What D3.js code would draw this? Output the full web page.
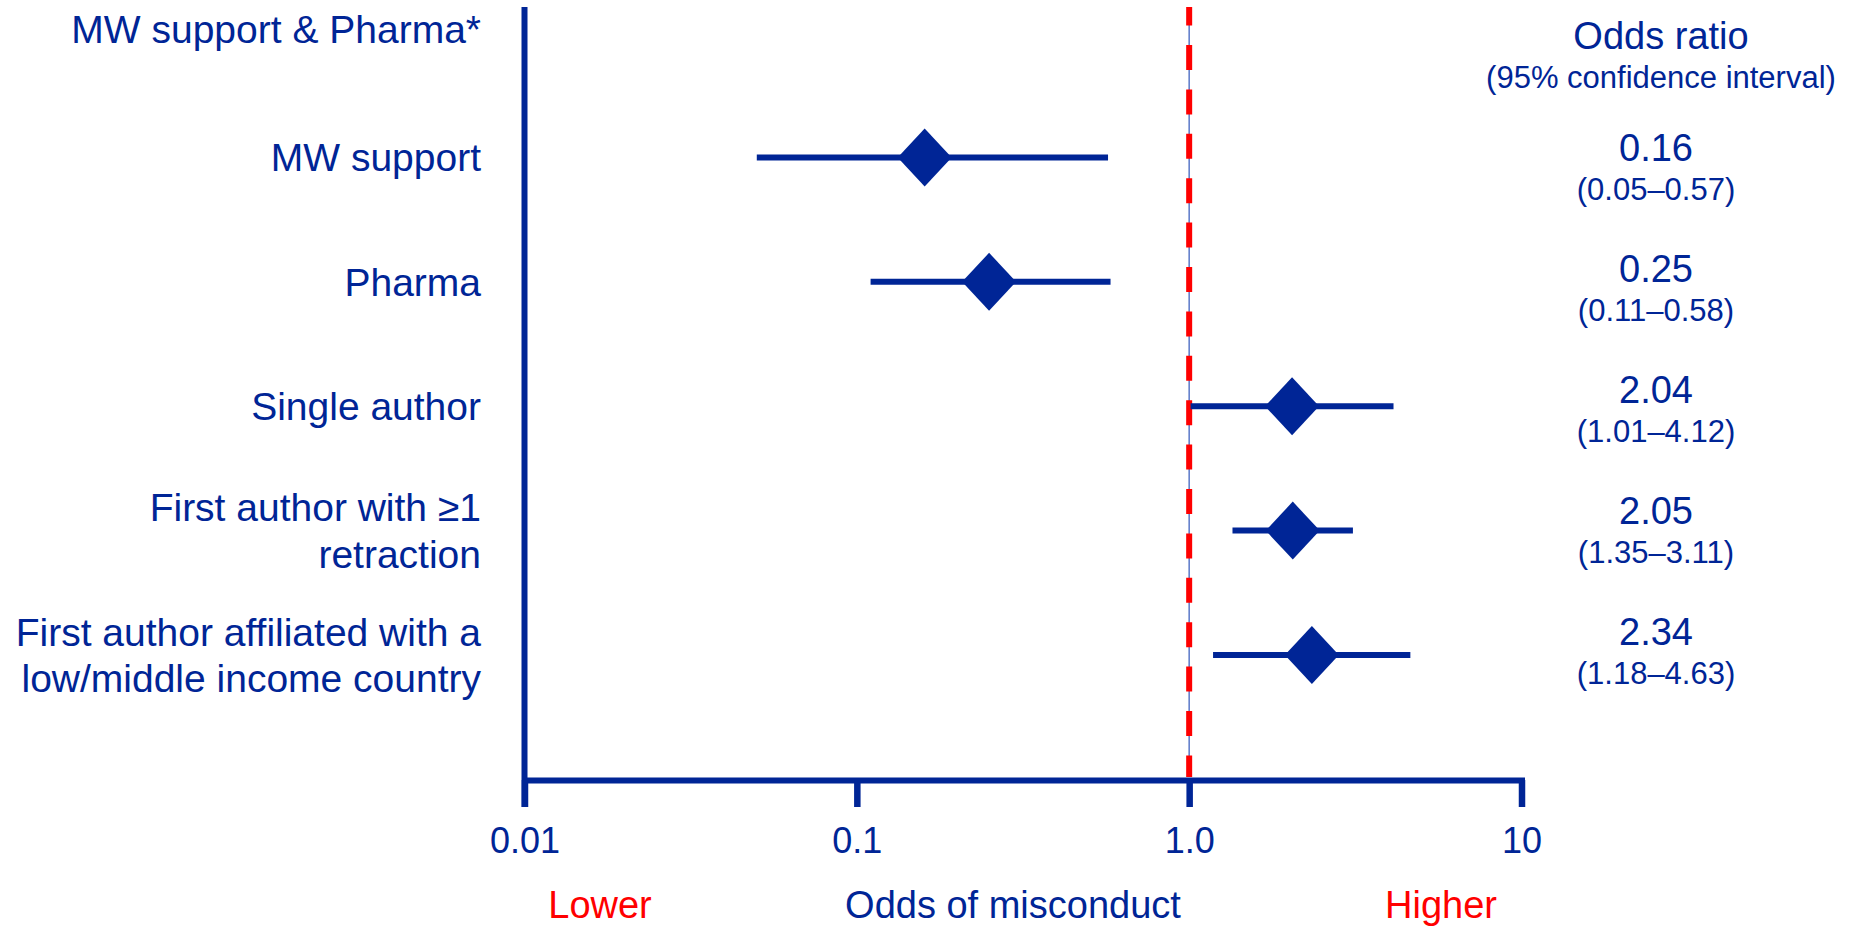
<!DOCTYPE html>
<html>
<head>
<meta charset="utf-8">
<script src="https://cdn.jsdelivr.net/npm/d3@7"></script>
<style>
  body { margin: 0; background: #fff; }
  svg text { font-family: "Liberation Sans", Arial, sans-serif; }
</style>
</head>
<body>
<div class="forest-chart"></div>
<script>
// data
const factors = [
    ["MW support"],
    ["Pharma"],
    ["Single author"],
    ["First author with \u22651", "retraction"],
    ["First author affiliated with a", "low/middle income country"]
];
const oddsRatios = [0.16, 0.25, 2.04, 2.05, 2.34];
const ciLow = [0.05, 0.11, 1.01, 1.35, 1.18];
const ciHigh = [0.57, 0.58, 4.12, 3.11, 4.63];
const orText = ["0.16", "0.25", "2.04", "2.05", "2.34"];
const ciText = ["(0.05\u20130.57)", "(0.11\u20130.58)", "(1.01\u20134.12)", "(1.35\u20133.11)", "(1.18\u20134.63)"];
const tickValues = [0.01, 0.1, 1, 10];
const tickLabels = ["0.01", "0.1", "1.0", "10"];

const width = 1854;
const height = 928;
const blue = "#002596";
const red = "#ff0000";

const svg = d3.select('.forest-chart')
    .append('svg')
    .attr('width', width)
    .attr('height', height);

const x = d3.scaleLog().domain([0.01, 10]).range([524.5, 1521.5]);
// row 0 is the group header, rows 1..5 are the factors
const rowY = d3.scaleLinear().domain([0, 5]).range([33, 655]);
// the odds ratio column sits on its own, slightly different rhythm
const noteY = d3.scaleLinear().domain([1, 5]).range([161, 645]);
const axisY = 780;

// x axis
const xAxis = d3.axisBottom(x)
    .tickValues(tickValues)
    .tickFormat((d, i) => tickLabels[i])
    .tickSize(27)
    .tickSizeOuter(0)
    .tickPadding(20);

const gx = svg.append("g")
    .attr("transform", `translate(0,${axisY})`)
    .call(xAxis);
gx.select(".domain")
    .attr("stroke", blue)
    .attr("stroke-width", 6)
    .attr("stroke-linecap", "square");
gx.selectAll(".tick line")
    .attr("stroke", blue)
    .attr("stroke-width", 6.5);
gx.selectAll(".tick text")
    .attr("fill", blue)
    .attr("font-size", 36)
    .attr("font-family", '"Liberation Sans", Arial, sans-serif');

// vertical axis at the left
svg.append("line")
    .attr("x1", x(0.01)).attr("x2", x(0.01))
    .attr("y1", 7).attr("y2", axisY + 27)
    .attr("stroke", blue)
    .attr("stroke-width", 6);

// reference line at OR = 1
svg.append("line")
    .attr("x1", x(1)).attr("x2", x(1))
    .attr("y1", 7).attr("y2", axisY - 3)
    .attr("stroke", "#5a78c8")
    .attr("stroke-width", 1.5);
svg.append("line")
    .attr("x1", x(1)).attr("x2", x(1))
    .attr("y1", 7).attr("y2", axisY - 3)
    .attr("stroke", red)
    .attr("stroke-width", 6)
    .attr("stroke-dasharray", "25 19.4")
    .attr("stroke-dashoffset", 6.4);

// confidence intervals
svg.selectAll(".ci")
    .data(oddsRatios)
    .enter()
    .append("line")
    .attr("class", "ci")
    .attr("x1", (d, i) => x(ciLow[i]))
    .attr("x2", (d, i) => x(ciHigh[i]))
    .attr("y1", (d, i) => rowY(i + 1))
    .attr("y2", (d, i) => rowY(i + 1))
    .attr("stroke", blue)
    .attr("stroke-width", 6);

// diamonds
const dw = 27, dh = 29;
svg.selectAll(".diamond")
    .data(oddsRatios)
    .enter()
    .append("path")
    .attr("class", "diamond")
    .attr("d", (d, i) => {
        const cx = x(d), cy = rowY(i + 1);
        return `M${cx},${cy - dh}L${cx + dw},${cy}L${cx},${cy + dh}L${cx - dw},${cy}Z`;
    })
    .attr("fill", blue);

// left labels
svg.append("text")
    .attr("x", 481)
    .attr("y", rowY(0) + 10)
    .attr("text-anchor", "end")
    .attr("font-size", 39)
    .attr("fill", blue)
    .text("MW support & Pharma*");

const labels = svg.selectAll(".label")
    .data(factors)
    .enter()
    .append("text")
    .attr("class", "label")
    .attr("text-anchor", "end")
    .attr("font-size", 39)
    .attr("fill", blue)
    .attr("y", (d, i) => rowY(i + 1) + 14 - (d.length - 1) * 23.3);
labels.selectAll("tspan")
    .data(d => d)
    .enter()
    .append("tspan")
    .attr("x", 481)
    .attr("dy", (d, i) => i === 0 ? 0 : 46.7)
    .text(d => d);

// right column
svg.append("text")
    .attr("x", 1661).attr("y", 49)
    .attr("text-anchor", "middle")
    .attr("font-size", 38)
    .attr("fill", blue)
    .text("Odds ratio");
svg.append("text")
    .attr("x", 1661).attr("y", 88)
    .attr("text-anchor", "middle")
    .attr("font-size", 31)
    .attr("fill", blue)
    .text("(95% confidence interval)");

svg.selectAll(".or-text")
    .data(orText)
    .enter()
    .append("text")
    .attr("class", "or-text")
    .attr("x", 1656)
    .attr("y", (d, i) => noteY(i + 1))
    .attr("text-anchor", "middle")
    .attr("font-size", 38)
    .attr("fill", blue)
    .text(d => d);

svg.selectAll(".ci-text")
    .data(ciText)
    .enter()
    .append("text")
    .attr("class", "ci-text")
    .attr("x", 1656)
    .attr("y", (d, i) => noteY(i + 1) + 39)
    .attr("text-anchor", "middle")
    .attr("font-size", 31)
    .attr("fill", blue)
    .text(d => d);

// bottom captions
svg.append("text")
    .attr("x", 600).attr("y", 918)
    .attr("text-anchor", "middle")
    .attr("font-size", 38)
    .attr("fill", red)
    .text("Lower");
svg.append("text")
    .attr("x", 1013).attr("y", 918)
    .attr("text-anchor", "middle")
    .attr("font-size", 38)
    .attr("fill", blue)
    .text("Odds of misconduct");
svg.append("text")
    .attr("x", 1441).attr("y", 918)
    .attr("text-anchor", "middle")
    .attr("font-size", 38)
    .attr("fill", red)
    .text("Higher");
</script>
</body>
</html>
